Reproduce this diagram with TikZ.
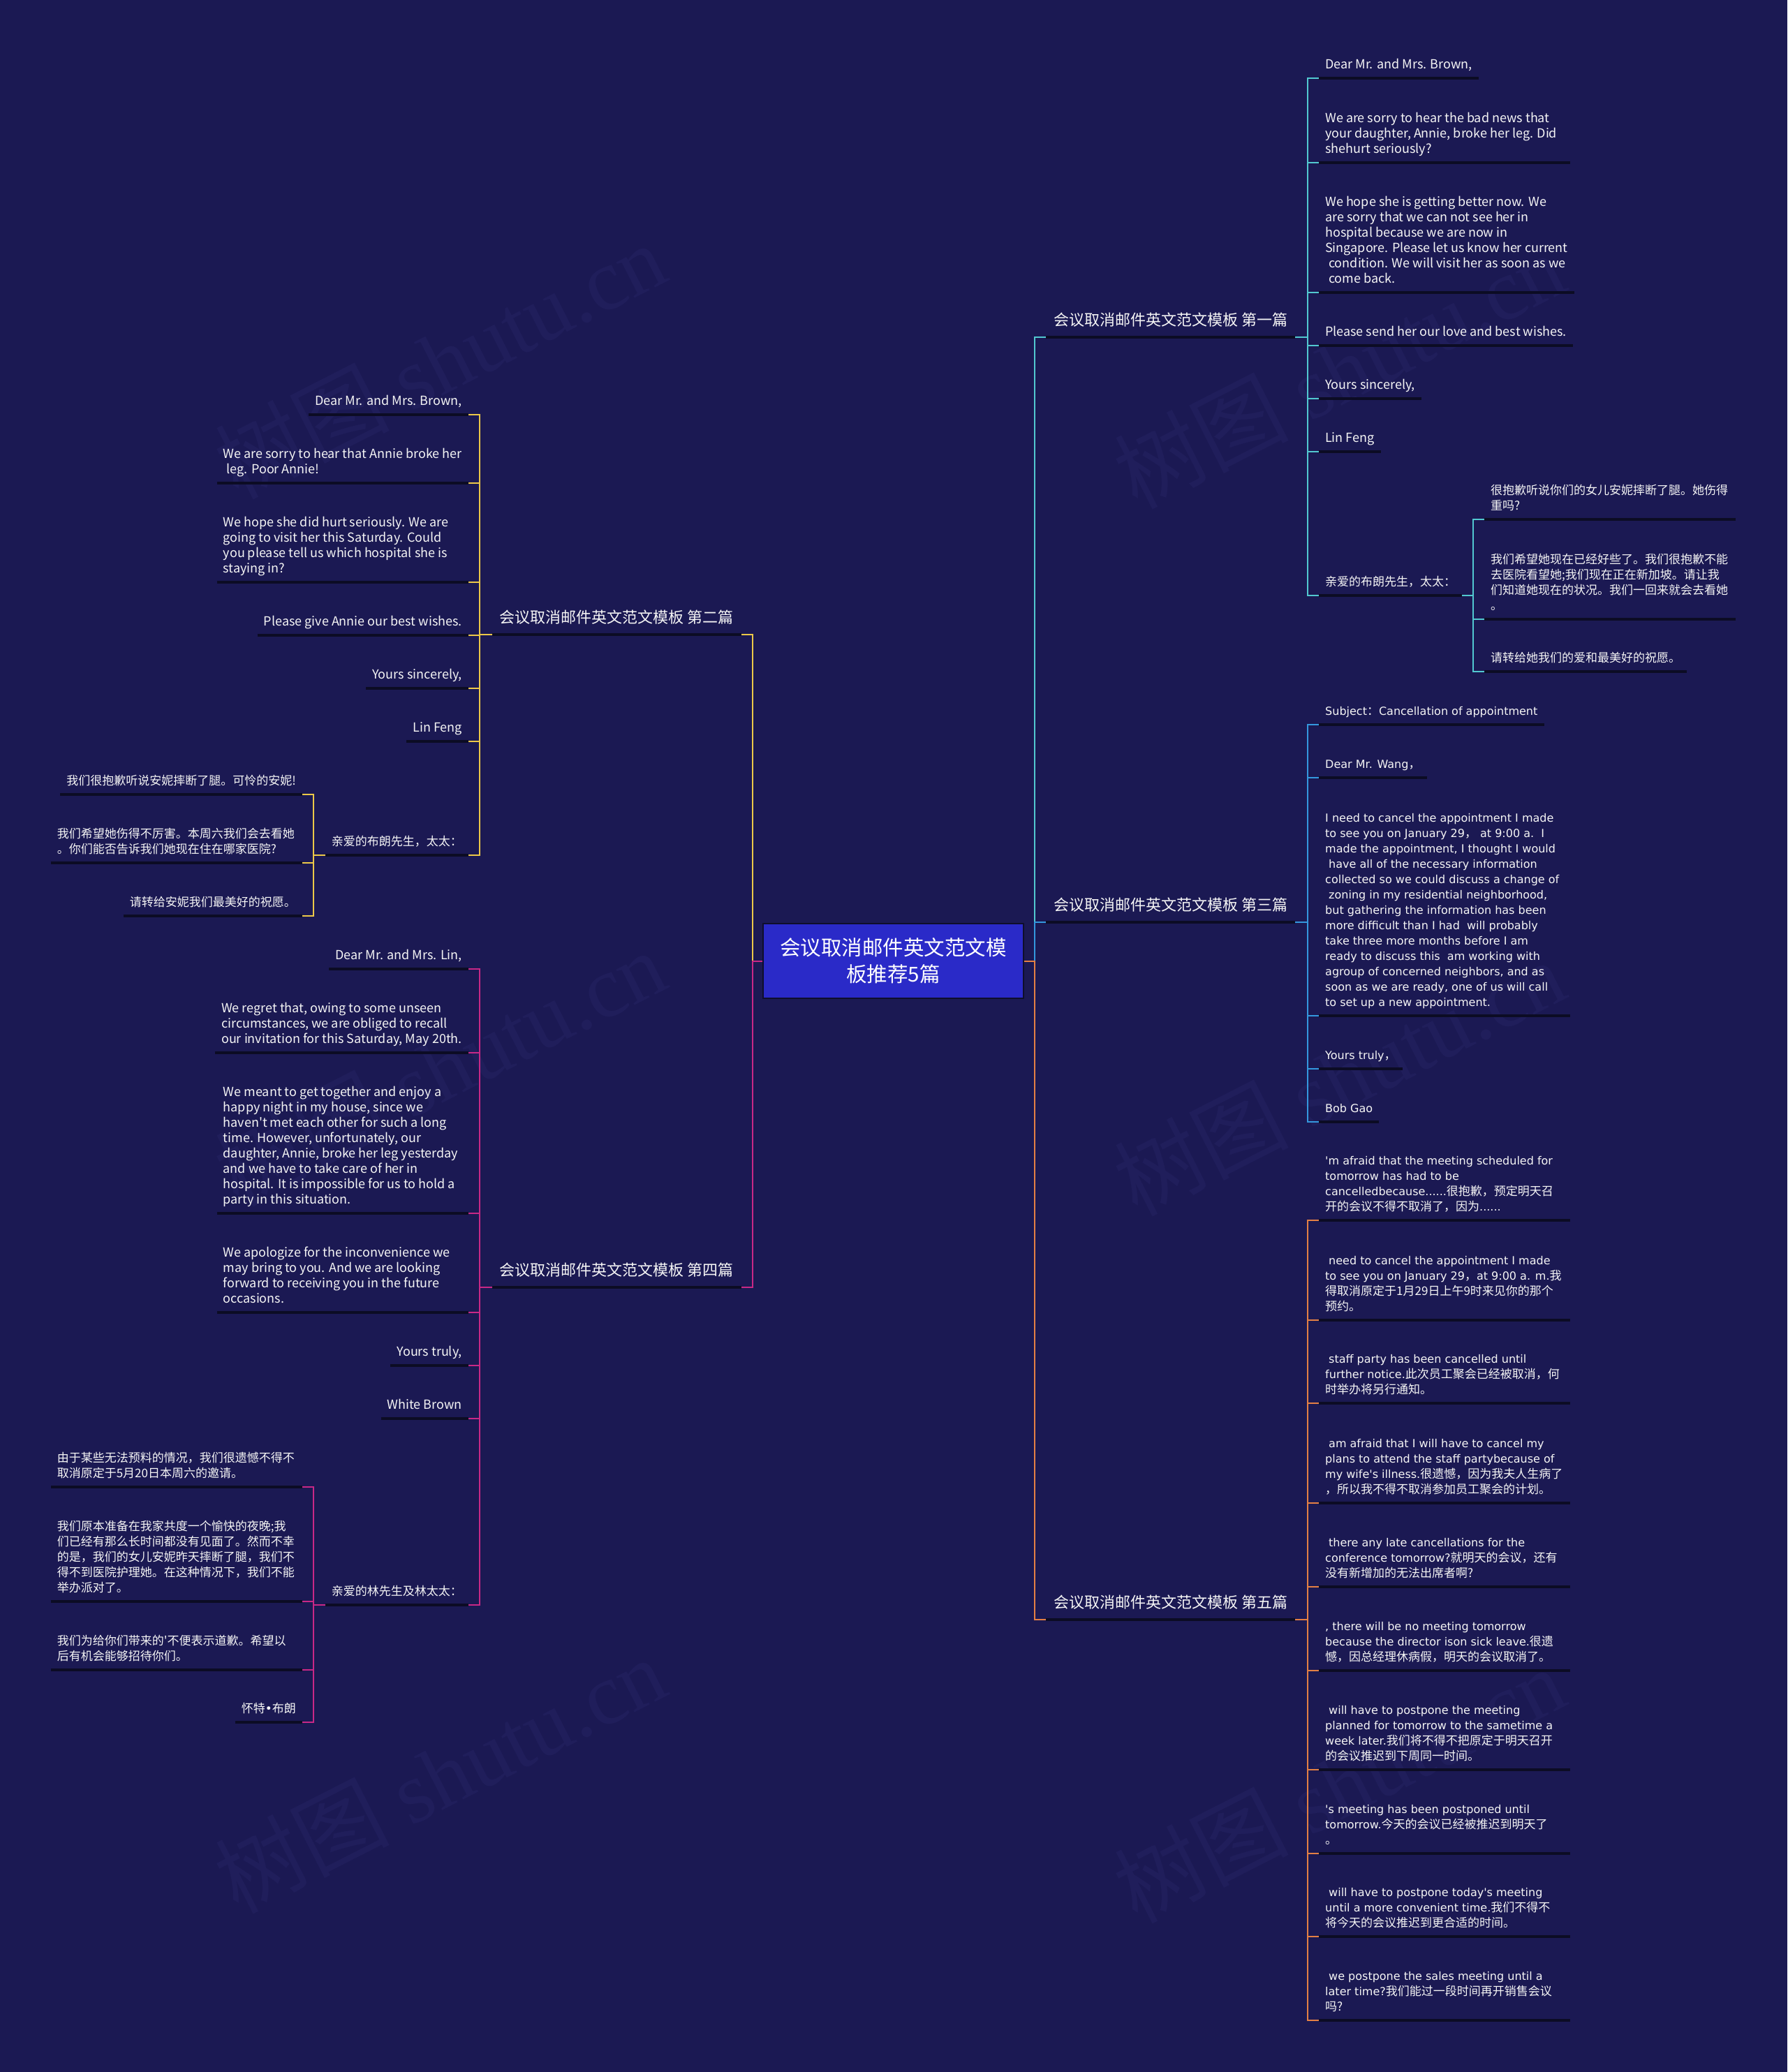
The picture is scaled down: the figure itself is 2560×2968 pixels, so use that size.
\documentclass[tikz,border=0pt]{standalone}
\usepackage{fontspec}
\setmainfont{Noto Sans CJK SC}[Ligatures=TeXOff]
\newfontfamily\enbfont{DejaVu Sans}
\newfontfamily\wmfont{Liberation Serif}
\usetikzlibrary{calc}
\definecolor{bgc}{RGB}{27,25,83}
\definecolor{rootc}{RGB}{42,42,200}
\definecolor{rootb}{RGB}{14,14,44}
\definecolor{ulc}{RGB}{12,12,36}
\definecolor{cone}{RGB}{82,200,208}
\definecolor{cthree}{RGB}{52,152,222}
\definecolor{cfive}{RGB}{228,128,68}
\definecolor{ctwo}{RGB}{236,200,72}
\definecolor{cfour}{RGB}{200,40,134}
\definecolor{wmc}{RGB}{32,30,91}
\definecolor{txt}{RGB}{245,245,245}
\newcommand\lstr{\rule[-5pt]{0pt}{22pt}}
\newcommand\blstr{\rule[-4pt]{0pt}{20pt}}
\newcommand\zhs[1]{{\rmfamily\fontsize{17}{22}\selectfont #1}}
\newcommand\myind{\hspace*{5pt}}
\newcommand\wl[1]{\makebox[342pt][l]{#1}}
\begin{document}
\begin{tikzpicture}[x=1pt,y=-1pt,
  leaf/.style={align=left,inner xsep=9pt,inner ysep=8pt,text=txt},
  enA/.style={leaf,font=\fontsize{18}{22}\selectfont},
  zhA/.style={leaf,font=\fontsize{17}{22}\selectfont},
  enB/.style={leaf,font=\enbfont\fontsize{16}{22}\selectfont},
  rside/.style={anchor=south west},
  lside/.style={anchor=south east},
  blab/.style={inner xsep=11pt,inner ysep=12.6pt,text=txt,font=\fontsize{22}{26}\selectfont},
  rootn/.style={fill=rootc,draw=rootb,line width=2pt,minimum width=373pt,minimum height=107pt,inner sep=0pt,text=white,align=center,font=\fontsize{29.5}{38}\selectfont},
  ul/.style={draw=ulc,line width=3.5pt},
  conn/.style={line width=2pt},
  wm/.style={text=wmc,font=\fontsize{125}{125}\selectfont,rotate=27,inner sep=0pt}
]
\useasboundingbox (0,0) rectangle (2560,2968);
\fill[bgc] (0,0) rectangle (2560,2968);

% watermarks
\node[wm] (wm1) at (630,516) {树图 {\wmfont shutu.cn}};
\node[wm] (wm2) at (630,1529) {树图 {\wmfont shutu.cn}};
\node[wm] (wm3) at (630,2542) {树图 {\wmfont shutu.cn}};
\node[wm] (wm4) at (1918,530) {树图 {\wmfont shutu.cn}};
\node[wm] (wm5) at (1918,1543) {树图 {\wmfont shutu.cn}};
\node[wm] (wm6) at (1918,2556) {树图 {\wmfont shutu.cn}};

% root
\node[rootn] (root) at (1279.5,1376.5) {会议取消邮件英文范文模\\板推荐5篇};

% branch labels
\node[blab,rside] (b1) at (1498,483) {会议取消邮件英文范文模板 第一篇\blstr};
\node[blab,rside] (b3) at (1498,1321) {会议取消邮件英文范文模板 第三篇\blstr};
\node[blab,rside] (b5) at (1498,2320) {会议取消邮件英文范文模板 第五篇\blstr};
\node[blab,lside] (b2) at (1062,909) {会议取消邮件英文范文模板 第二篇\blstr};
\node[blab,lside] (b4) at (1062,1844) {会议取消邮件英文范文模板 第四篇\blstr};

% ---- branch 1
\node[enA,rside] (r1a) at (1889,112) {Dear Mr. and Mrs. Brown,\lstr};
\node[enA,rside] (r1b) at (1889,233) {\wl{We are sorry to hear the bad news that}\\your daughter, Annie, broke her leg. Did\\shehurt seriously?\lstr};
\node[enA,rside] (r1c) at (1889,419) {\wl{We hope she is getting better now. We}\\are sorry that we can not see her in\\hospital because we are now in\\Singapore. Please let us know her current\\\myind condition. We will visit her as soon as we\\\myind come back.\lstr};
\node[enA,rside] (r1d) at (1889,495) {Please send her our love and best wishes.\lstr};
\node[enA,rside] (r1e) at (1889,571) {Yours sincerely,\lstr};
\node[enA,rside] (r1f) at (1889,647) {Lin Feng\lstr};
\node[zhA,rside] (r1g) at (1889,853) {亲爱的布朗先生，太太：\lstr};
\node[zhA,rside] (r1g1) at (2126,744) {\wl{很抱歉听说你们的女儿安妮摔断了腿。她伤得}\\重吗?\lstr};
\node[zhA,rside] (r1g2) at (2126,887) {\wl{我们希望她现在已经好些了。我们很抱歉不能}\\去医院看望她;我们现在正在新加坡。请让我\\们知道她现在的状况。我们一回来就会去看她\\。\lstr};
\node[zhA,rside] (r1g3) at (2126,962) {请转给她我们的爱和最美好的祝愿。\lstr};

% ---- branch 3
\node[enB,rside] (r3a) at (1889,1038) {Subject\zhs{：}Cancellation of appointment\lstr};
\node[enB,rside] (r3b) at (1889,1114) {Dear Mr. Wang\zhs{，}\lstr};
\node[enB,rside] (r3c) at (1889,1455) {\wl{I need to cancel the appointment I made}\\to see you on January 29\zhs{，} at 9:00 a.\ \ I\\made the appointment, I thought I would\\\myind have all of the necessary information\\collected so we could discuss a change of\\\myind zoning in my residential neighborhood,\\but gathering the information has been\\more difficult than I had\ \ will probably\\take three more months before I am\\ready to discuss this\ \ am working with\\agroup of concerned neighbors, and as\\soon as we are ready, one of us will call\\to set up a new appointment.\lstr};
\node[enB,rside] (r3d) at (1889,1531) {Yours truly\zhs{，}\lstr};
\node[enB,rside] (r3e) at (1889,1607) {Bob Gao\lstr};

% ---- branch 5
\node[enB,rside] (r5a) at (1889,1748) {\wl{'m afraid that the meeting scheduled for}\\tomorrow has had to be\\cancelledbecause......\zhs{很抱歉，预定明天召}\\\zhs{开的会议不得不取消了，因为}......\lstr};
\node[enB,rside] (r5b) at (1889,1891) {\wl{\myind need to cancel the appointment I made}\\to see you on January 29\zhs{，}at 9:00 a. m.\zhs{我}\\\zhs{得取消原定于1月29日上午9时来见你的那个}\\\zhs{预约。}\lstr};
\node[enB,rside] (r5c) at (1889,2010) {\wl{\myind staff party has been cancelled until}\\further notice.\zhs{此次员工聚会已经被取消，何}\\\zhs{时举办将另行通知。}\lstr};
\node[enB,rside] (r5d) at (1889,2153) {\wl{\myind am afraid that I will have to cancel my}\\plans to attend the staff partybecause of\\my wife's illness.\zhs{很遗憾，因为我夫人生病了}\\\zhs{，所以我不得不取消参加员工聚会的计划。}\lstr};
\node[enB,rside] (r5e) at (1889,2273) {\wl{\myind there any late cancellations for the}\\conference tomorrow?\zhs{就明天的会议，还有}\\\zhs{没有新增加的无法出席者啊?}\lstr};
\node[enB,rside] (r5f) at (1889,2393) {\wl{, there will be no meeting tomorrow}\\because the director ison sick leave.\zhs{很遗}\\\zhs{憾，因总经理休病假，明天的会议取消了。}\lstr};
\node[enB,rside] (r5g) at (1889,2535) {\wl{\myind will have to postpone the meeting}\\planned for tomorrow to the sametime a\\week later.\zhs{我们将不得不把原定于明天召开}\\\zhs{的会议推迟到下周同一时间。}\lstr};
\node[enB,rside] (r5h) at (1889,2655) {\wl{'s meeting has been postponed until}\\tomorrow.\zhs{今天的会议已经被推迟到明天了}\\\zhs{。}\lstr};
\node[enB,rside] (r5i) at (1889,2774) {\wl{\myind will have to postpone today's meeting}\\until a more convenient time.\zhs{我们不得不}\\\zhs{将今天的会议推迟到更合适的时间。}\lstr};
\node[enB,rside] (r5j) at (1889,2894) {\wl{\myind we postpone the sales meeting until a}\\later time?\zhs{我们能过一段时间再开销售会议}\\\zhs{吗?}\lstr};

% ---- branch 2
\node[enA,lside] (l2a) at (671,594) {Dear Mr. and Mrs. Brown,\lstr};
\node[enA,lside] (l2b) at (671,692) {\wl{We are sorry to hear that Annie broke her}\\\myind leg. Poor Annie!\lstr};
\node[enA,lside] (l2c) at (671,834) {\wl{We hope she did hurt seriously. We are}\\going to visit her this Saturday. Could\\you please tell us which hospital she is\\staying in?\lstr};
\node[enA,lside] (l2d) at (671,910) {Please give Annie our best wishes.\lstr};
\node[enA,lside] (l2e) at (671,986) {Yours sincerely,\lstr};
\node[enA,lside] (l2f) at (671,1062) {Lin Feng\lstr};
\node[zhA,lside] (l2g) at (671,1225) {亲爱的布朗先生，太太：\lstr};
\node[zhA,lside] (l2g1) at (433,1138) {我们很抱歉听说安妮摔断了腿。可怜的安妮!\lstr};
\node[zhA,lside] (l2g2) at (433,1236) {\wl{我们希望她伤得不厉害。本周六我们会去看她}\\。你们能否告诉我们她现在住在哪家医院?\lstr};
\node[zhA,lside] (l2g3) at (433,1312) {请转给安妮我们最美好的祝愿。\lstr};

% ---- branch 4
\node[enA,lside] (l4a) at (671,1388) {Dear Mr. and Mrs. Lin,\lstr};
\node[enA,lside] (l4b) at (671,1508) {\wl{We regret that, owing to some unseen}\\circumstances, we are obliged to recall\\our invitation for this Saturday, May 20th.\lstr};
\node[enA,lside] (l4c) at (671,1738) {\wl{We meant to get together and enjoy a}\\happy night in my house, since we\\haven't met each other for such a long\\time. However, unfortunately, our\\daughter, Annie, broke her leg yesterday\\and we have to take care of her in\\hospital. It is impossible for us to hold a\\party in this situation.\lstr};
\node[enA,lside] (l4d) at (671,1880) {\wl{We apologize for the inconvenience we}\\may bring to you. And we are looking\\forward to receiving you in the future\\occasions.\lstr};
\node[enA,lside] (l4e) at (671,1956) {Yours truly,\lstr};
\node[enA,lside] (l4f) at (671,2032) {White Brown\lstr};
\node[zhA,lside] (l4g) at (671,2299) {亲爱的林先生及林太太：\lstr};
\node[zhA,lside] (l4g1) at (433,2130) {\wl{由于某些无法预料的情况，我们很遗憾不得不}\\取消原定于5月20日本周六的邀请。\lstr};
\node[zhA,lside] (l4g2) at (433,2294) {\wl{我们原本准备在我家共度一个愉快的夜晚;我}\\们已经有那么长时间都没有见面了。然而不幸\\的是，我们的女儿安妮昨天摔断了腿，我们不\\得不到医院护理她。在这种情况下，我们不能\\举办派对了。\lstr};
\node[zhA,lside] (l4g3) at (433,2392) {\wl{我们为给你们带来的'不便表示道歉。希望以}\\后有机会能够招待你们。\lstr};
\node[zhA,lside] (l4g4) at (433,2467) {怀特{\enbfont •}布朗\lstr};

% ---- connectors: root to branches
\draw[conn,cone] (root.east) -| ([xshift=-16pt]b1.south west) -- (b1.south west);
\draw[conn,cthree] (root.east) -| ([xshift=-16pt]b3.south west) -- (b3.south west);
\draw[conn,cfive] (root.east) -| ([xshift=-16pt]b5.south west) -- (b5.south west);
\draw[conn,ctwo] (root.west) -| ([xshift=16pt]b2.south east) -- (b2.south east);
\draw[conn,cfour] (root.west) -| ([xshift=16pt]b4.south east) -- (b4.south east);

% branch to children (right)
\foreach \c in {r1a,r1b,r1c,r1d,r1e,r1f,r1g}
  \draw[conn,cone] (b1.south east) -| ([xshift=-16pt]\c.south west) -- (\c.south west);
\foreach \c in {r1g1,r1g2,r1g3}
  \draw[conn,cone] (r1g.south east) -| ([xshift=-16pt]\c.south west) -- (\c.south west);
\foreach \c in {r3a,r3b,r3c,r3d,r3e}
  \draw[conn,cthree] (b3.south east) -| ([xshift=-16pt]\c.south west) -- (\c.south west);
\foreach \c in {r5a,r5b,r5c,r5d,r5e,r5f,r5g,r5h,r5i,r5j}
  \draw[conn,cfive] (b5.south east) -| ([xshift=-16pt]\c.south west) -- (\c.south west);

% branch to children (left)
\foreach \c in {l2a,l2b,l2c,l2d,l2e,l2f,l2g}
  \draw[conn,ctwo] (b2.south west) -| ([xshift=16pt]\c.south east) -- (\c.south east);
\foreach \c in {l2g1,l2g2,l2g3}
  \draw[conn,ctwo] (l2g.south west) -| ([xshift=16pt]\c.south east) -- (\c.south east);
\foreach \c in {l4a,l4b,l4c,l4d,l4e,l4f,l4g}
  \draw[conn,cfour] (b4.south west) -| ([xshift=16pt]\c.south east) -- (\c.south east);
\foreach \c in {l4g1,l4g2,l4g3,l4g4}
  \draw[conn,cfour] (l4g.south west) -| ([xshift=16pt]\c.south east) -- (\c.south east);

% underlines
\foreach \n in {b1,b2,b3,b4,b5,r1a,r1b,r1c,r1d,r1e,r1f,r1g,r1g1,r1g2,r1g3,r3a,r3b,r3c,r3d,r3e,r5a,r5b,r5c,r5d,r5e,r5f,r5g,r5h,r5i,r5j,l2a,l2b,l2c,l2d,l2e,l2f,l2g,l2g1,l2g2,l2g3,l4a,l4b,l4c,l4d,l4e,l4f,l4g,l4g1,l4g2,l4g3,l4g4}
  \draw[ul] (\n.south west) -- (\n.south east);
\end{tikzpicture}
\end{document}
